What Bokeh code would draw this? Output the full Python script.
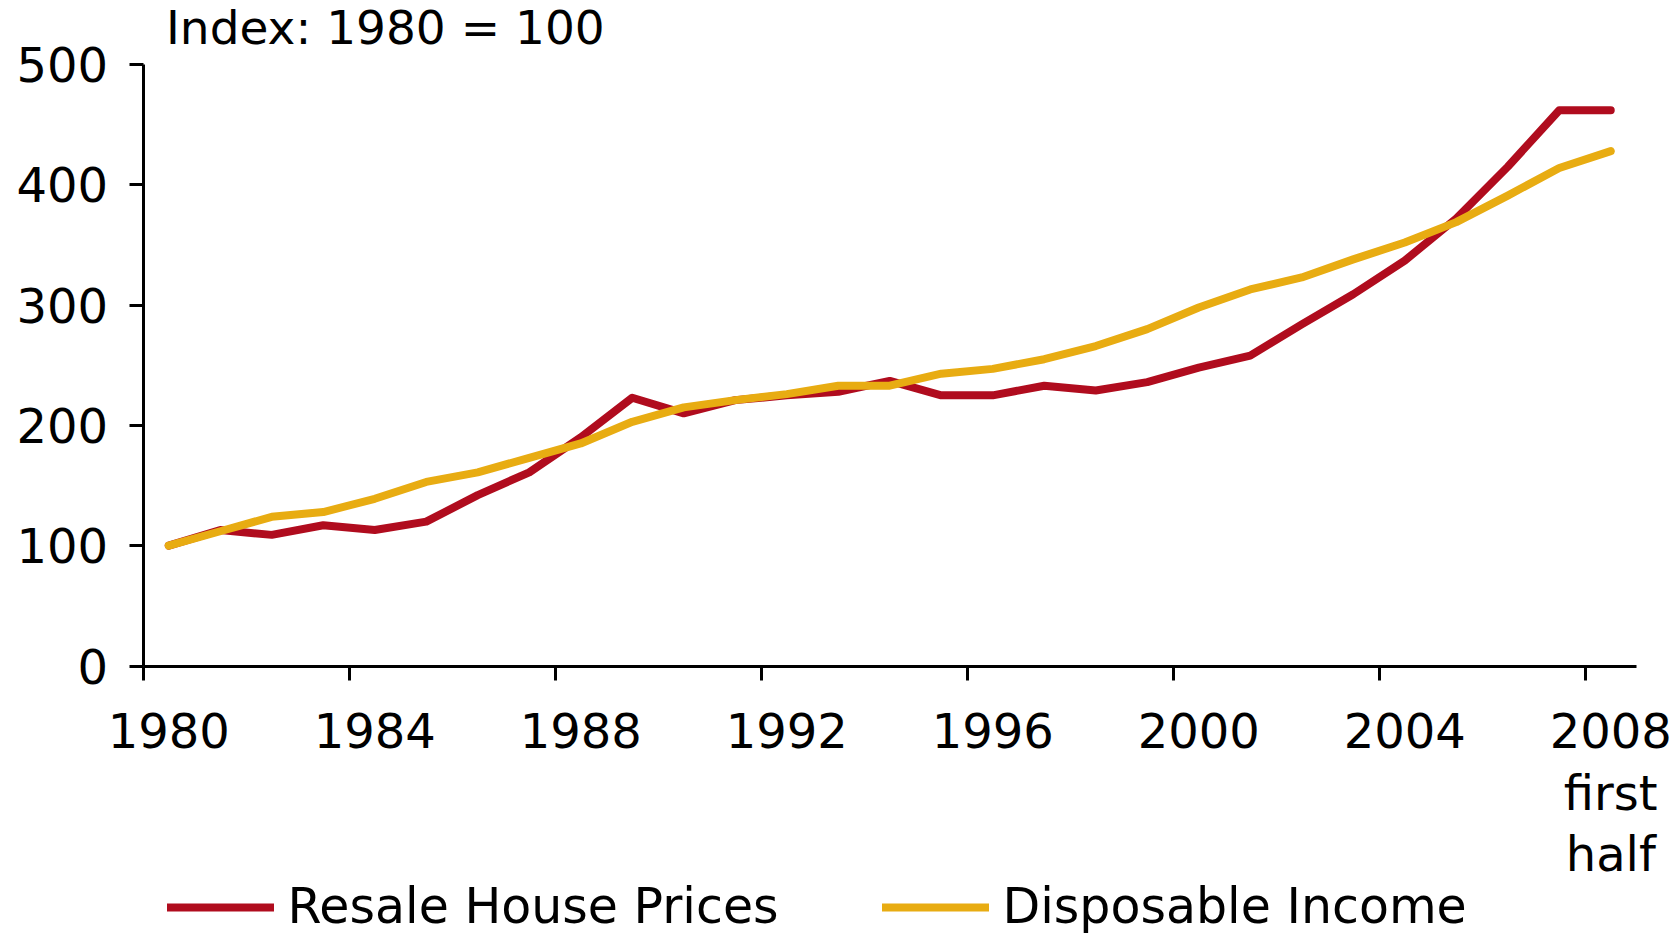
from bokeh.plotting import figure
from bokeh.models import Range1d, FixedTicker, Legend, LegendItem, Label, ColumnDataSource
from bokeh.embed import file_html
from bokeh.resources import INLINE

# ---- data -------------------------------------------------------------
categories = [str(y) for y in range(1980, 2008)] + ["2008\nfirst\nhalf"]
house_prices = [100, 113, 109, 117, 113, 120, 142, 161, 190, 223,
                210, 221, 225, 228, 237, 225, 225, 233, 229, 236,
                248, 258, 284, 309, 337, 372, 415, 462, 462]
disposable_income = [100, 112, 124, 128, 139, 153, 161, 173, 185, 203,
                     215, 221, 226, 233, 233, 243, 247, 255, 266, 280,
                     298, 313, 323, 338, 352, 369, 391, 414, 428]
y_ticks = [0, 100, 200, 300, 400, 500]
label_step = 4
series_names = ["Resale House Prices", "Disposable Income"]
title_text = "Index: 1980 = 100"

RED = "#B00C1E"
YELLOW = "#E8AC12"
FONT = "DejaVu Sans"

# ---- layout (pixels): the frame fills the whole canvas, axes sit inside --
W, H = 1680, 936
AX_LEFT, AX_RIGHT = 142.5, 1636.0     # pixel columns of the category axis ends
AX_TOP, AX_BOTTOM = 64.0, 665.5       # pixel rows of value 500 and value 0
TITLE_RISE = 37                       # title anchor above the axis top (px)
TITLE_INDENT = 23                     # title start right of the value axis (px)
LEGEND_INDENT = 24
LEGEND_LIFT = 1

n = len(categories)
cat_px = (AX_RIGHT - AX_LEFT) / n
x_lo = -0.5 - AX_LEFT / cat_px
x_hi = n - 0.5 + (W - AX_RIGHT) / cat_px
val_px = (AX_BOTTOM - AX_TOP) / (y_ticks[-1] - y_ticks[0])
y_lo = y_ticks[0] - (H - AX_BOTTOM) / val_px
y_hi = y_ticks[-1] + AX_TOP / val_px

xs = list(range(n))
src = ColumnDataSource(dict(x=xs, house=house_prices, income=disposable_income))

p = figure(width=W, height=H, output_backend="svg", toolbar_location=None,
           x_range=Range1d(x_lo, x_hi), y_range=Range1d(y_lo, y_hi),
           min_border_left=0, min_border_right=0, min_border_top=0,
           min_border_bottom=0)
p.outline_line_color = None
p.xgrid.visible = False
p.ygrid.visible = False
p.background_fill_color = "white"
p.border_fill_color = "white"

r1 = p.line("x", "house", source=src, line_color=RED, line_width=8,
            line_join="round", line_cap="round")
r2 = p.line("x", "income", source=src, line_color=YELLOW, line_width=8,
            line_join="round", line_cap="round")

# y axis at the left edge of the first category
ya = p.yaxis[0]
ya.fixed_location = -0.5
ya.ticker = FixedTicker(ticks=y_ticks)
ya.bounds = (y_ticks[0], y_ticks[-1])
ya.axis_line_width = 3
ya.axis_line_color = "black"
ya.major_tick_line_width = 3
ya.major_tick_out = 14
ya.major_tick_in = 0
ya.minor_tick_line_color = None
ya.major_label_text_font = FONT
ya.major_label_text_font_size = "48px"
ya.major_label_text_color = "black"
ya.major_label_standoff = 21

# x axis (category axis: labels at centres, ticks on boundaries), at value 0
label_pos = list(range(0, n, label_step))
bound_pos = [i - 0.5 for i in label_pos]
xa = p.xaxis[0]
xa.fixed_location = y_ticks[0]
xa.bounds = (-0.5, n - 0.5)
xa.ticker = FixedTicker(ticks=label_pos, minor_ticks=bound_pos)
xa.major_label_overrides = {i: categories[i] for i in label_pos}
xa.axis_line_width = 3
xa.axis_line_color = "black"
xa.major_tick_line_color = None
xa.major_tick_out = 0
xa.major_tick_in = 0
xa.minor_tick_line_width = 3
xa.minor_tick_line_color = "black"
xa.minor_tick_out = 14
xa.minor_tick_in = 0
xa.major_label_text_font = FONT
xa.major_label_text_font_size = "48px"
xa.major_label_text_color = "black"
xa.major_label_text_line_height = 1.1
xa.major_label_standoff = 23

# title text, just above the top of the value axis
p.add_layout(Label(x=-0.5 + TITLE_INDENT / cat_px,
                   y=y_ticks[-1] + TITLE_RISE / val_px,
                   text=title_text, text_font=FONT, text_font_size="47px",
                   text_baseline="alphabetic", text_align="left",
                   text_color="black"))

legend = Legend(items=[LegendItem(label=series_names[0], renderers=[r1]),
                       LegendItem(label=series_names[1], renderers=[r2])],
                orientation="horizontal",
                location=(AX_LEFT + LEGEND_INDENT, LEGEND_LIFT),
                glyph_width=107, glyph_height=48, label_standoff=14,
                label_width=594, label_height=48, spacing=0, padding=0,
                margin=0, border_line_color=None, background_fill_alpha=0,
                label_text_font=FONT, label_text_font_size="49px",
                label_text_color="black")
p.add_layout(legend, "center")

open("out.html", "w").write(file_html(p, INLINE))
